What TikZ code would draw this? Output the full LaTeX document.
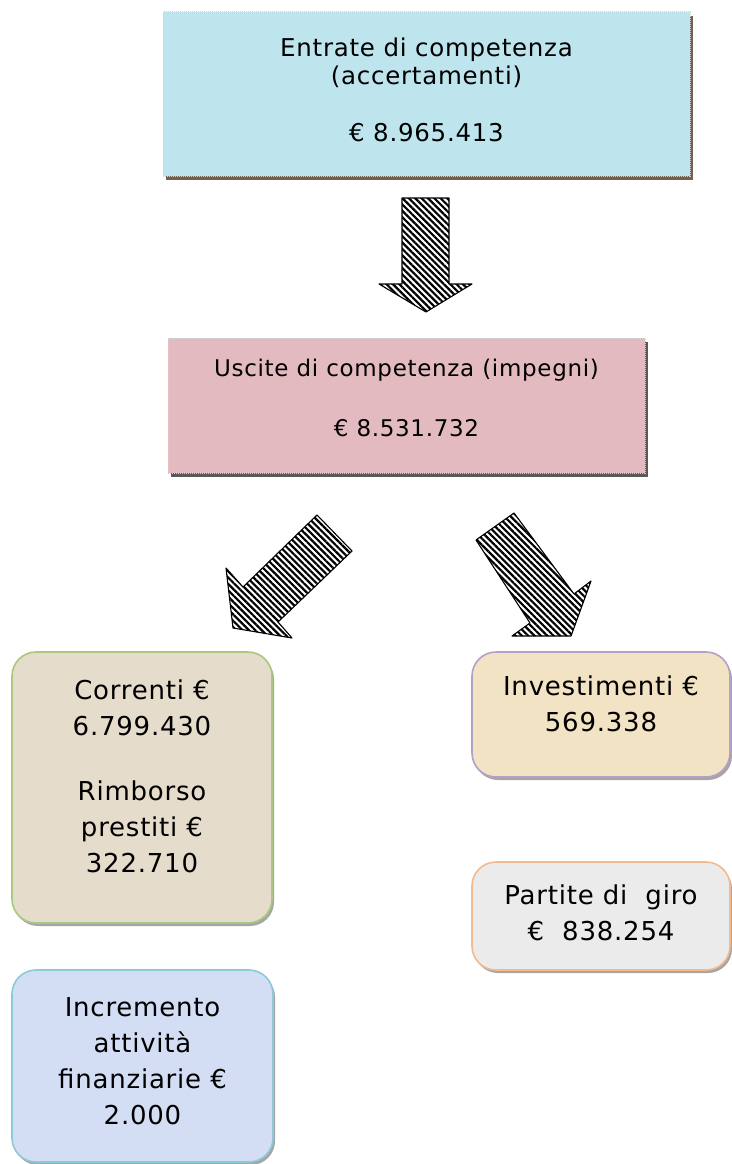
\documentclass[tikz,border=0pt]{standalone}
\usepackage{fontspec}
\setmainfont{DejaVu Sans}[LetterSpace=3]
\usepackage{tikz}
\usetikzlibrary{shapes.geometric, positioning, calc, shadows, patterns.meta}
\definecolor{acqua}{HTML}{BEE5EE}
\definecolor{rosa}{HTML}{E4BAC1}
\definecolor{tela}{HTML}{E5DCCB}
\definecolor{pergamena}{HTML}{F2E3C5}
\definecolor{carta}{HTML}{EBEBEB}
\definecolor{lilla}{HTML}{D3DDF4}
\definecolor{verde}{HTML}{A8C97F}
\definecolor{viola}{HTML}{B2A1C7}
\definecolor{arancio}{HTML}{F6B98B}
\definecolor{celeste}{HTML}{8CCAD8}
\definecolor{ombra}{HTML}{6F6250}
\tikzstyle{bilancio} = [rectangle, draw=gray!35, densely dotted, line width=1pt, align=center, drop shadow={shadow xshift=3pt, shadow yshift=-4pt, fill=ombra, opacity=1}]
\tikzstyle{voce} = [rectangle, rounded corners=24pt, line width=1.6pt, align=center, font=\fontsize{26}{36}\selectfont, drop shadow={shadow xshift=2pt, shadow yshift=-3pt, fill=gray!70, opacity=1}]
\tikzstyle{freccia} = [draw=black, line width=1.1pt, line join=round, pattern={Lines[angle=-45,distance=4.5pt,line width=2.2pt]}]
\begin{document}
\begin{tikzpicture}[x=1pt, y=-1pt]
    \useasboundingbox (0,0) rectangle (731,1164);
    \node (entrate) [bilancio, fill=acqua, minimum width=527pt, minimum height=164pt, font=\fontsize{24.5}{28}\selectfont, text depth=9pt] at (426.5,94) {Entrate di competenza\\(accertamenti)\\[29pt]€ 8.965.413};
    \node (uscite) [bilancio, fill=rosa, minimum width=477pt, minimum height=135pt, font=\fontsize{23}{28}\selectfont, text depth=15pt, drop shadow={shadow xshift=3pt, shadow yshift=-4pt, fill=gray!70!black, opacity=1}] at (406.5,405.5) {Uscite di competenza (impegni)\\[32pt]€ 8.531.732};

    \node (correnti) [voce, draw=verde, fill=tela, minimum width=260pt, minimum height=271pt, text depth=22pt] at (142,787.5) {Correnti €\\6.799.430\\[29pt]Rimborso\\prestiti €\\322.710};
    \node (investimenti) [voce, draw=viola, fill=pergamena, minimum width=258pt, minimum height=125pt, text depth=22pt] at (601,714.5) {Investimenti €\\569.338};
    \node (partite) [voce, draw=arancio, fill=carta, minimum width=258pt, minimum height=108pt, text depth=7pt] at (601,916) {Partite di\ \ giro\\€\ \ 838.254};
    \node (incremento) [voce, draw=celeste, fill=lilla, minimum width=261pt, minimum height=192pt, text depth=9pt] at (142.5,1066) {Incremento\\attività\\finanziarie €\\2.000};

    \draw [freccia] (402,198) -- (449,198) -- (449,284) -- (472,284) -- (426,312) -- (379,284) -- (402,284) -- cycle;
    \draw [freccia] (317,515) -- (352,551) -- (278,622) -- (292,638) -- (233,628) -- (226,568) -- (243,587) -- cycle;
    \draw [freccia] (514,513) -- (574,594) -- (591,581) -- (571,636) -- (512,636) -- (530,623) -- (476,540) -- cycle;
\end{tikzpicture}
\end{document}
